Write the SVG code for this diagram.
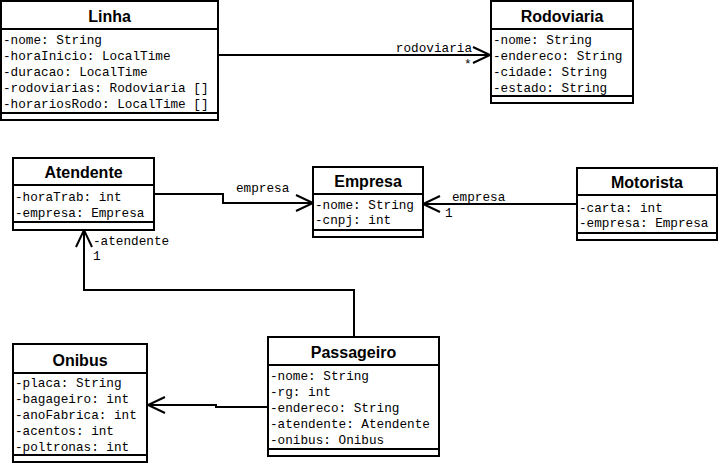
<svg xmlns="http://www.w3.org/2000/svg" width="720" height="466" viewBox="0 0 720 466">
  <style>
    .box { fill: #ffffff; stroke: #000000; stroke-width: 2; }
    .sep { stroke: #000000; stroke-width: 2; }
    .title { font-family: "Liberation Sans", Arial, sans-serif; font-weight: bold; font-size: 16px; text-anchor: middle; fill: #000; }
    .attr { font-family: "Liberation Mono", "Courier New", monospace; font-size: 12.7px; fill: #000; }
    .edge { fill: none; stroke: #000000; stroke-width: 2; }
    .lbl { font-family: "Liberation Mono", "Courier New", monospace; font-size: 12.7px; fill: #000; }
  </style>
  <defs>
    <marker id="open" markerUnits="userSpaceOnUse" markerWidth="20" markerHeight="20" viewBox="-18 -10 20 20" refX="0" refY="0" orient="auto" overflow="visible">
      <path d="M-17,-8 L0,0 L-17,8" fill="none" stroke="#000" stroke-width="2"/>
    </marker>
  </defs>
  <rect width="720" height="466" fill="#ffffff"/>

  <!-- associations -->
  <g id="connectors">
    <path class="edge" d="M218,55 H490" marker-end="url(#open)"/>
    <path class="edge" d="M154,194 H223 V203 H313" marker-end="url(#open)"/>
    <path class="edge" d="M577,204 H423" marker-end="url(#open)"/>
    <path class="edge" d="M354,337 V290 H84 V230" marker-end="url(#open)"/>
    <path class="edge" d="M268,407 H216 V405 H148" marker-end="url(#open)"/>
    <text class="lbl" x="472" y="52" text-anchor="end">rodoviaria</text>
    <text class="lbl" x="464" y="68">*</text>
    <text class="lbl" x="236" y="192">empresa</text>
    <text class="lbl" x="452" y="201">empresa</text>
    <text class="lbl" x="445" y="217">1</text>
    <text class="lbl" x="93" y="245">-atendente</text>
    <text class="lbl" x="93" y="260">1</text>
  </g>

  <g id="Linha">
    <rect class="box" x="1" y="1" width="217" height="119"/>
    <line class="sep" x1="1" y1="29" x2="218" y2="29"/>
    <line class="sep" x1="1" y1="113" x2="218" y2="113"/>
    <text class="title" x="109.5" y="22">Linha</text>
    <text class="attr" x="3" y="44">-nome: String</text>
    <text class="attr" x="3" y="60">-horaInicio: LocalTime</text>
    <text class="attr" x="3" y="76">-duracao: LocalTime</text>
    <text class="attr" x="3" y="92">-rodoviarias: Rodoviaria []</text>
    <text class="attr" x="3" y="108">-horariosRodo: LocalTime []</text>
  </g>

  <g id="Rodoviaria">
    <rect class="box" x="491" y="1" width="142" height="102"/>
    <line class="sep" x1="491" y1="29" x2="633" y2="29"/>
    <line class="sep" x1="491" y1="96" x2="633" y2="96"/>
    <text class="title" x="562" y="22">Rodoviaria</text>
    <text class="attr" x="493" y="44">-nome: String</text>
    <text class="attr" x="493" y="60">-endereco: String</text>
    <text class="attr" x="493" y="76">-cidade: String</text>
    <text class="attr" x="493" y="92">-estado: String</text>
  </g>

  <g id="Atendente">
    <rect class="box" x="13" y="158" width="141" height="72"/>
    <line class="sep" x1="13" y1="185" x2="154" y2="185"/>
    <line class="sep" x1="13" y1="222" x2="154" y2="222"/>
    <text class="title" x="83.5" y="178">Atendente</text>
    <text class="attr" x="15" y="201">-horaTrab: int</text>
    <text class="attr" x="15" y="217">-empresa: Empresa</text>
  </g>

  <g id="Empresa">
    <rect class="box" x="313" y="167" width="110" height="70"/>
    <line class="sep" x1="313" y1="194" x2="423" y2="194"/>
    <line class="sep" x1="313" y1="230" x2="423" y2="230"/>
    <text class="title" x="368" y="187">Empresa</text>
    <text class="attr" x="315" y="209">-nome: String</text>
    <text class="attr" x="315" y="224">-cnpj: int</text>
  </g>

  <g id="Motorista">
    <rect class="box" x="577" y="168" width="140" height="72"/>
    <line class="sep" x1="577" y1="195" x2="717" y2="195"/>
    <line class="sep" x1="577" y1="233" x2="717" y2="233"/>
    <text class="title" x="647" y="188">Motorista</text>
    <text class="attr" x="579" y="212">-carta: int</text>
    <text class="attr" x="579" y="227">-empresa: Empresa</text>
  </g>

  <g id="Passageiro">
    <rect class="box" x="268" y="337" width="171" height="119"/>
    <line class="sep" x1="268" y1="365" x2="439" y2="365"/>
    <line class="sep" x1="268" y1="449" x2="439" y2="449"/>
    <text class="title" x="353.5" y="358">Passageiro</text>
    <text class="attr" x="270" y="380">-nome: String</text>
    <text class="attr" x="270" y="396">-rg: int</text>
    <text class="attr" x="270" y="412">-endereco: String</text>
    <text class="attr" x="270" y="428">-atendente: Atendente</text>
    <text class="attr" x="270" y="444">-onibus: Onibus</text>
  </g>

  <g id="Onibus">
    <rect class="box" x="13" y="344" width="134" height="118"/>
    <line class="sep" x1="13" y1="373" x2="147" y2="373"/>
    <line class="sep" x1="13" y1="455" x2="147" y2="455"/>
    <text class="title" x="80" y="366">Onibus</text>
    <text class="attr" x="15" y="387">-placa: String</text>
    <text class="attr" x="15" y="403">-bagageiro: int</text>
    <text class="attr" x="15" y="419">-anoFabrica: int</text>
    <text class="attr" x="15" y="435">-acentos: int</text>
    <text class="attr" x="15" y="451">-poltronas: int</text>
  </g>
</svg>
